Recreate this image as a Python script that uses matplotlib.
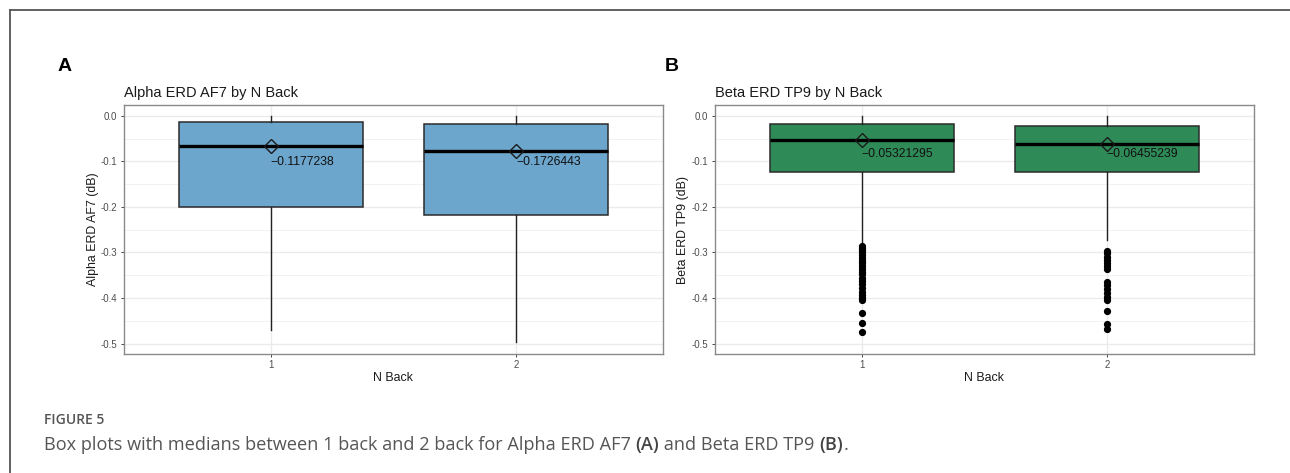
import matplotlib
matplotlib.use("Agg")
import matplotlib.pyplot as plt
from matplotlib.lines import Line2D
from matplotlib.ticker import MultipleLocator

# ---------------- data ----------------
categories = ["1", "2"]

alpha_titles = "Alpha ERD AF7 by N Back"
alpha_ylabel = "Alpha ERD AF7 (dB)"
alpha_q1 = [-0.1996, -0.2171]
alpha_med = [-0.0652, -0.0762]
alpha_q3 = [-0.0127, -0.0171]
alpha_whislo = [-0.4694, -0.4963]
alpha_whishi = [-0.001, -0.001]
alpha_fliers = [[], []]
alpha_labels = [-0.1177238, -0.1726443]

beta_titles = "Beta ERD TP9 by N Back"
beta_ylabel = "Beta ERD TP9 (dB)"
beta_q1 = [-0.1230, -0.1230]
beta_med = [-0.0536, -0.0608]
beta_q3 = [-0.0186, -0.0223]
beta_whislo = [-0.2797, -0.2724]
beta_whishi = [-0.001, -0.001]
beta_fliers = [
    [-0.286, -0.290, -0.295, -0.300, -0.306, -0.312, -0.318, -0.324, -0.330,
     -0.336, -0.342, -0.348, -0.355, -0.362, -0.370, -0.378, -0.386, -0.394,
     -0.400, -0.405, -0.434, -0.455, -0.475],
    [-0.296, -0.302, -0.309, -0.316, -0.323, -0.330, -0.337, -0.364, -0.372,
     -0.380, -0.389, -0.397, -0.404, -0.429, -0.457, -0.469],
]
beta_labels = [-0.05321295, -0.06455239]

y_ticks = [0.0, -0.1, -0.2, -0.3, -0.4, -0.5]
y_ticklabels = ["0.0", "-0.1", "-0.2", "-0.3", "-0.4", "-0.5"]

caption_head = "FIGURE 5"
caption_parts = [("Box plots with medians between 1 back and 2 back for Alpha ERD AF7 ", False),
                 ("(A)", True), (" and Beta ERD TP9 ", False), ("(B)", True), (".", False)]

# ---------------- figure ----------------
W, H = 1290, 473
fig = plt.figure(figsize=(W / 100, H / 100), dpi=100)
fig.patch.set_facecolor("white")

FONT = "Liberation Sans"


def px_ax(l, r, t, b):
    return [l / W, 1 - b / H, (r - l) / W, (b - t) / H]


def panel(rect, title, ylabel, q1, med, q3, wlo, whi, fliers, labels, label_y, fill):
    ax = fig.add_axes(rect)
    stats = []
    for i in range(len(categories)):
        stats.append(dict(med=med[i], q1=q1[i], q3=q3[i], whislo=wlo[i], whishi=whi[i],
                          fliers=fliers[i], label=categories[i]))
    pos = list(range(1, len(categories) + 1))
    ax.bxp(stats, positions=pos, widths=0.75, patch_artist=True, showcaps=False,
           boxprops=dict(facecolor=fill, edgecolor="#2b2b2b", linewidth=1.1),
           medianprops=dict(color="black", linewidth=2.4),
           whiskerprops=dict(color="#222222", linewidth=1.0),
           flierprops=dict(marker="o", markerfacecolor="black", markeredgecolor="black",
                           markersize=4.2, linestyle="none"),
           zorder=3)
    ax.plot(pos, med, linestyle="none", marker="D", markersize=7.0,
            markerfacecolor="none", markeredgecolor="#1a1a1a", markeredgewidth=1.0, zorder=5)
    for p, v in zip(pos, labels):
        ax.text(p, label_y, f"{v}".replace("-", "\u2212"), ha="left", va="center",
                fontsize=8.8, family=FONT, color="#111111", zorder=6)
    ax.set_xlim(0.4, 2.6)
    ax.set_ylim(-0.523, 0.024)
    ax.set_xticks(pos)
    ax.set_xticklabels(categories)
    ax.set_yticks(y_ticks)
    ax.set_yticklabels(y_ticklabels)
    ax.yaxis.set_minor_locator(MultipleLocator(0.05))
    ax.grid(True, which="major", color="#EBEBEB", linewidth=1.0, zorder=0)
    ax.grid(True, which="minor", axis="y", color="#F2F2F2", linewidth=0.7, zorder=0)
    ax.set_axisbelow(True)
    ax.tick_params(axis="both", which="major", length=2.5, width=0.7, color="#444444",
                   labelsize=7, labelcolor="#4D4D4D", pad=2)
    ax.tick_params(axis="y", which="minor", length=0)
    for lab in ax.get_xticklabels() + ax.get_yticklabels():
        lab.set_family(FONT)
    for s in ax.spines.values():
        s.set_color("#8a8a8a")
        s.set_linewidth(1.0)
    ax.set_title(title, loc="left", fontsize=10.5, family=FONT, color="#1a1a1a", pad=6)
    ax.set_xlabel("N Back", fontsize=8.9, family=FONT, color="#1a1a1a")
    ax.set_ylabel(ylabel, fontsize=8.9, family=FONT, color="#1a1a1a")
    ax.xaxis.set_label_coords(0.5, -0.095)
    ax.xaxis.label.set_va("center")
    ax.yaxis.set_label_coords(-0.0575, 0.5)
    ax.yaxis.label.set_va("center")
    return ax


axA = panel(px_ax(123.6, 663, 105, 354), alpha_titles, alpha_ylabel, alpha_q1, alpha_med,
            alpha_q3, alpha_whislo, alpha_whishi, alpha_fliers, alpha_labels, -0.101, "#6CA6CD")
axB = panel(px_ax(714.5, 1254, 105, 354), beta_titles, beta_ylabel, beta_q1, beta_med,
            beta_q3, beta_whislo, beta_whishi, beta_fliers, beta_labels, -0.083, "#2E8B57")

# panel letters
fig.text(58 / W, 1 - 71 / H, "A", fontsize=14, fontweight="bold", family=FONT, color="black",
         ha="left", va="baseline")
fig.text(665 / W, 1 - 71 / H, "B", fontsize=14, fontweight="bold", family=FONT, color="black",
         ha="left", va="baseline")

# frame lines (top & left)
fig.add_artist(Line2D([10 / W, 1.0], [1 - 10 / H, 1 - 10 / H], transform=fig.transFigure,
                      color="#555555", linewidth=1.3))
fig.add_artist(Line2D([10 / W, 10 / W], [1 - 10 / H, 0.0], transform=fig.transFigure,
                      color="#555555", linewidth=1.3))

# caption
CAP = ["Open Sans", "DejaVu Sans"]
fig.text(44 / W, 1 - 424 / H, caption_head, fontsize=10, fontweight="semibold", family=CAP,
         color="#555555", ha="left", va="baseline")
renderer = fig.canvas.get_renderer()
x = 44.0
for txt, bold in caption_parts:
    t = fig.text(x / W, 1 - 450 / H, txt, fontsize=13.1, family=CAP,
                 fontweight="semibold" if bold else "normal",
                 color="#444444" if bold else "#555555", ha="left", va="baseline")
    bb = t.get_window_extent(renderer=renderer)
    x += bb.width

fig.savefig("out.png", dpi=100, facecolor="white")
